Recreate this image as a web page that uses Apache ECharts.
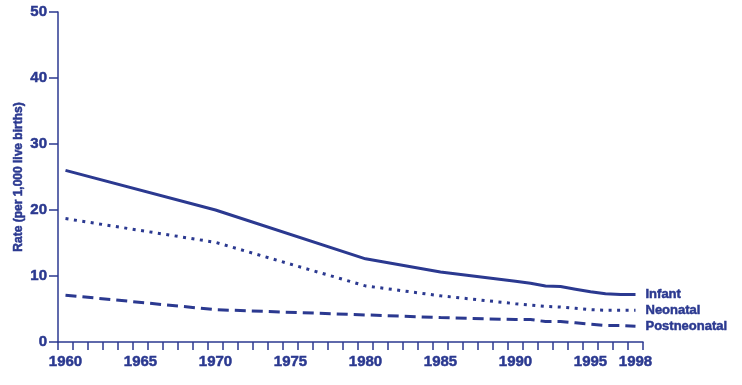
<!DOCTYPE html>
<html>
<head>
<meta charset="utf-8">
<script src="https://cdn.jsdelivr.net/npm/echarts@6/dist/echarts.min.js"></script>
<style>
  html, body { margin: 0; padding: 0; background: #fff; }
  #chart { width: 742px; height: 385px; }
</style>
</head>
<body>
<div id="chart"></div>
<script>
// 年份（类目轴，每年一格）
const years = [];
for (let y = 1960; y <= 1998; y++) years.push(String(y));

const labelYears = ['1960', '1965', '1970', '1975', '1980', '1985', '1990', '1995', '1998'];

// 读数的年份
const dataYears = ['1960', '1970', '1980', '1985', '1990', '1991', '1992', '1993', '1994', '1995', '1996', '1997', '1998'];
const infant = [26.0, 20.0, 12.6, 10.6, 9.2, 8.9, 8.5, 8.4, 8.0, 7.6, 7.3, 7.2, 7.2];
const neonatal = [18.7, 15.1, 8.5, 7.0, 5.8, 5.6, 5.4, 5.3, 5.1, 4.9, 4.8, 4.8, 4.8];
const postneonatal = [7.1, 4.9, 4.1, 3.7, 3.4, 3.4, 3.1, 3.1, 2.9, 2.7, 2.5, 2.5, 2.4];

const COLOR = '#2b3990';
const FONT = '"Liberation Sans", Arial, sans-serif';

// 粗体字再描一点边，接近原图的重字
const heavy = size => ({
  color: COLOR,
  fontFamily: FONT,
  fontWeight: 'bold',
  fontSize: size,
  textBorderColor: COLOR,
  textBorderWidth: 0.5
});

// 把稀疏读数铺到每年的类目上，没有的年份留空
const toSeries = values => years.map(y => {
  const i = dataYears.indexOf(y);
  return i === -1 ? null : values[i];
});

const makeLine = (name, values, dash) => ({
  name,
  type: 'line',
  data: toSeries(values),
  connectNulls: true,
  symbol: 'none',
  lineStyle: { color: COLOR, width: 3, type: dash, cap: 'butt' },
  endLabel: Object.assign({ show: true, formatter: '{a}', distance: 10 }, heavy(13))
});

const chart = echarts.init(document.getElementById('chart'), null, { renderer: 'canvas' });

chart.setOption({
  animation: false,
  backgroundColor: '#fff',
  grid: {
    left: 58, right: 99, top: 12, bottom: 43,
    containLabel: false,
    outerBoundsMode: 'none'
  },
  xAxis: {
    type: 'category',
    data: years,
    boundaryGap: true,
    axisLine: { show: true, lineStyle: { color: COLOR, width: 1.5 } },
    axisTick: { show: true, interval: 0, length: 8, lineStyle: { color: COLOR, width: 1.5 } },
    axisLabel: Object.assign({
      interval: (idx, val) => labelYears.indexOf(val) !== -1,
      margin: 12
    }, heavy(15)),
    splitLine: { show: false }
  },
  yAxis: {
    type: 'value',
    min: 0,
    max: 50,
    interval: 10,
    name: 'Rate (per 1,000 live births)',
    nameLocation: 'middle',
    nameGap: 33,
    nameMoveOverlap: false,
    nameTextStyle: heavy(12),
    axisLine: { show: true, lineStyle: { color: COLOR, width: 1.5 } },
    axisTick: { show: true, length: 9, lineStyle: { color: COLOR, width: 1.5 } },
    axisLabel: Object.assign({ margin: 11 }, heavy(15)),
    splitLine: { show: false }
  },
  series: [
    makeLine('Infant', infant, 'solid'),
    makeLine('Neonatal', neonatal, [3, 5.5]),
    makeLine('Postneonatal', postneonatal, [11, 6])
  ]
});
</script>
</body>
</html>
